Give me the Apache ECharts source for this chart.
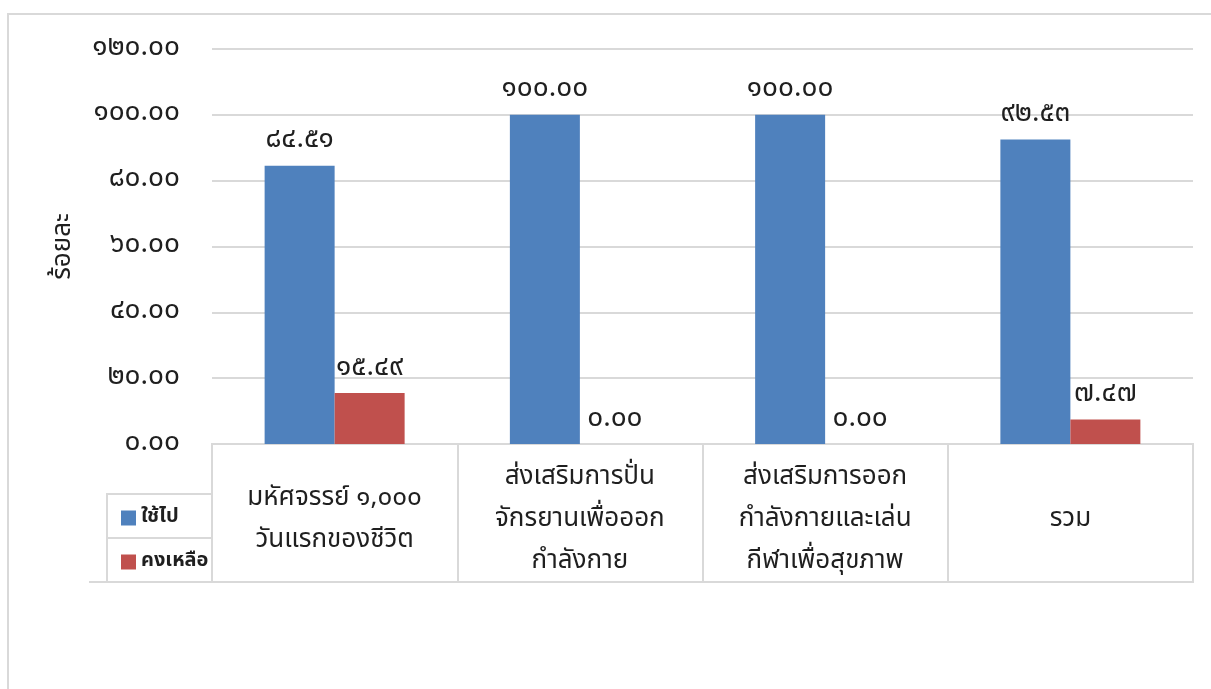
<!DOCTYPE html>
<html>
<head>
<meta charset="utf-8">
<script src="https://cdn.jsdelivr.net/npm/echarts@6/dist/echarts.min.js"></script>
<style>
html,body{margin:0;padding:0;background:#fff;}
#c{width:1211px;height:689px;}
</style>
</head>
<body>
<div id="c"></div>
<script>
var categories = ['มหัศจรรย์ ๑,๐๐๐\nวันแรกของชีวิต', 'ส่งเสริมการปั่น\nจักรยานเพื่อออก\nกำลังกาย', 'ส่งเสริมการออก\nกำลังกายและเล่น\nกีฬาเพื่อสุขภาพ', 'รวม'];
var seriesNames = ['ใช้ไป', 'คงเหลือ'];
var usedValues = [84.51, 100.00, 100.00, 92.53];
var remainValues = [15.49, 0.00, 0.00, 7.47];
var yAxisTitle = 'ร้อยละ';

var FONT = '"Noto Sans Thai","Noto Sans","DejaVu Sans",sans-serif';
var TXT = '#1f1f1f';
var LINE = '#d9d9d9';

function thaiDigits(s) {
  return String(s).replace(/[0-9]/g, function (d) { return String.fromCharCode(0x0E50 + Number(d)); });
}
function fmt(v) { return thaiDigits(Number(v).toFixed(2)); }

var chart = echarts.init(document.getElementById('c'), null, { renderer: 'canvas' });

var labelCfg = {
  show: true, position: 'top', distance: 10,
  fontFamily: FONT, fontSize: 28, color: TXT,
  formatter: function (p) { return fmt(p.value); }
};

var option = {
  backgroundColor: '#fff',
  animation: false,
  legend: {
    data: seriesNames,
    orient: 'vertical',
    left: 116, top: 501,
    icon: 'rect', itemWidth: 15, itemHeight: 15, itemGap: 20,
    textStyle: { fontFamily: FONT, fontSize: 20, fontWeight: 'bold', color: TXT, lineHeight: 24 }
  },
  grid: [
    { left: 212, right: 18, top: 49, bottom: 245, containLabel: false },
    { left: 212, right: 18, top: 444, bottom: 107, show: true, borderColor: LINE, borderWidth: 2, backgroundColor: 'transparent' }
  ],
  xAxis: [
    {
      type: 'category', data: categories, gridIndex: 0,
      axisLine: { show: false }, axisTick: { show: false },
      axisLabel: {
        show: true, interval: 0, margin: 77, verticalAlign: 'middle',
        fontFamily: FONT, fontSize: 26, color: TXT, lineHeight: 42, align: 'center'
      },
      splitLine: { show: false }
    },
    {
      type: 'category', data: categories, gridIndex: 1,
      axisLine: { show: false }, axisTick: { show: false }, axisLabel: { show: false },
      splitLine: { show: true, lineStyle: { color: LINE, width: 2 } }
    }
  ],
  yAxis: [
    {
      type: 'value', gridIndex: 0, min: 0, max: 120, interval: 20,
      name: yAxisTitle, nameLocation: 'middle', nameGap: 134, nameRotate: 90,
      nameTextStyle: { fontFamily: FONT, fontSize: 26, color: TXT },
      axisLine: { show: false }, axisTick: { show: false },
      axisLabel: { margin: 32, fontFamily: FONT, fontSize: 28, color: TXT, formatter: function (v) { return fmt(v); } },
      splitLine: { show: true, lineStyle: { color: LINE, width: 2 } }
    },
    {
      type: 'value', gridIndex: 1, show: false, min: 0, max: 1
    }
  ],
  series: [
    {
      name: seriesNames[0], type: 'bar', xAxisIndex: 0, yAxisIndex: 0,
      data: usedValues, barWidth: 70, barGap: '0%',
      itemStyle: { color: '#4F81BD' }, label: labelCfg
    },
    {
      name: seriesNames[1], type: 'bar', xAxisIndex: 0, yAxisIndex: 0,
      data: remainValues, barWidth: 70, barGap: '0%',
      itemStyle: { color: '#C0504D' }, label: labelCfg
    }
  ],
  graphic: [
    { type: 'rect', shape: { x: 8, y: 14, width: 1400, height: 900 }, style: { fill: 'none', stroke: LINE, lineWidth: 2 }, silent: true, z: -1 },
    { type: 'rect', shape: { x: 107, y: 494, width: 105, height: 88 }, style: { fill: 'none', stroke: LINE, lineWidth: 2 }, silent: true },
    { type: 'line', shape: { x1: 107, y1: 538, x2: 212, y2: 538 }, style: { stroke: LINE, lineWidth: 2 }, silent: true },
    { type: 'line', shape: { x1: 89, y1: 582, x2: 212, y2: 582 }, style: { stroke: LINE, lineWidth: 2 }, silent: true }
  ]
};
chart.setOption(option);
</script>
</body>
</html>
